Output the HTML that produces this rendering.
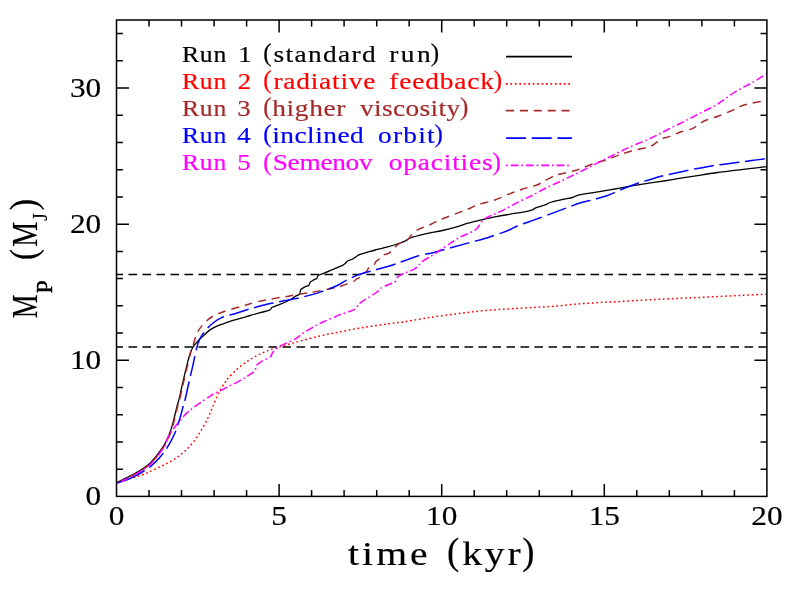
<!DOCTYPE html>
<html><head><meta charset="utf-8"><title>Planet mass vs time</title>
<style>
html,body{margin:0;padding:0;background:#fff;}
body{width:789px;height:590px;overflow:hidden;font-family:"Liberation Serif",serif;}
svg{display:block;will-change:transform;}
svg text{font-family:"Liberation Serif",serif;}
</style></head><body>
<svg width="789" height="590" viewBox="0 0 789 590">
<rect width="789" height="590" fill="#fff"/>
<g fill="none" stroke="#000" stroke-width="1.5">
<path d="M116.5,346.9H766.9" stroke-dasharray="8.5 5.5" stroke-dashoffset="2"/>
<path d="M116.5,274.4H766.9" stroke-dasharray="8.5 5.5" stroke-dashoffset="2"/>
</g>
<g fill="none" stroke-width="1.2" stroke-linejoin="round">
<path d="M116.4,482.7C118.2,481.9 123.7,479.2 126.9,477.6C130.1,476.0 132.6,474.8 135.4,473.2C138.2,471.6 141.5,469.8 143.9,468.1C146.3,466.5 148.2,465.1 150.0,463.3C151.8,461.6 153.3,459.6 155.0,457.6C156.7,455.6 158.3,453.6 160.0,451.2C161.7,448.8 163.5,446.2 165.0,443.5C166.5,440.8 167.8,438.0 169.0,435.0C170.2,432.0 171.2,429.0 172.2,425.6C173.2,422.2 174.1,418.0 175.0,414.5C175.9,411.0 176.8,407.0 177.5,404.5C178.2,402.0 178.3,402.2 179.0,399.5C179.7,396.8 180.7,391.7 181.4,388.5C182.1,385.3 182.4,384.5 183.3,380.5C184.2,376.5 185.9,369.1 187.1,364.4C188.3,359.7 189.5,355.4 190.5,352.5C191.5,349.6 192.1,348.6 193.1,347.0C194.1,345.4 194.8,344.4 196.4,342.7C198.0,341.0 200.0,338.8 202.4,336.6C204.8,334.4 208.0,331.3 210.8,329.4C213.6,327.5 216.5,326.4 219.3,325.2C222.1,324.0 224.9,323.2 227.8,322.2C230.7,321.2 233.9,320.2 236.7,319.4C239.5,318.5 242.5,317.8 244.7,317.1C246.9,316.5 247.4,316.2 250.0,315.5C252.6,314.8 257.1,313.6 260.2,312.7C263.3,311.8 267.0,311.0 268.8,310.4C270.6,309.8 270.2,309.5 270.8,309.0C271.4,308.5 271.3,307.8 272.2,307.3C273.1,306.8 274.6,306.3 276.0,305.8C277.4,305.3 278.1,305.2 280.5,304.1C282.9,303.1 288.3,300.8 290.7,299.5C293.1,298.2 293.4,297.5 294.8,296.6C296.2,295.7 298.4,295.1 299.3,294.2C300.2,293.3 300.0,292.3 300.3,291.5C300.6,290.7 300.4,290.1 301.2,289.3C302.0,288.5 303.7,287.4 304.9,286.8C306.1,286.2 307.7,286.2 308.5,285.6C309.3,285.1 309.3,284.1 309.6,283.5C309.9,282.9 309.8,282.6 310.4,282.0C311.0,281.4 312.1,280.8 313.1,280.2C314.1,279.6 315.9,279.2 316.6,278.6C317.4,278.0 317.3,277.1 317.6,276.5C317.9,275.9 318.0,275.6 318.6,275.2C319.2,274.8 320.3,274.5 321.2,274.1C322.1,273.8 322.5,273.8 324.2,273.1C325.9,272.5 328.2,271.5 331.3,270.2C334.4,268.9 340.5,266.4 342.9,265.2C345.3,264.0 344.7,263.9 345.5,263.2C346.3,262.5 346.5,261.6 347.5,261.0C348.5,260.4 350.5,259.9 351.6,259.5C352.7,259.1 353.1,258.9 354.0,258.3C354.9,257.8 355.7,256.8 356.7,256.2C357.7,255.5 358.3,255.0 360.0,254.4C361.7,253.8 364.4,253.1 366.9,252.4C369.4,251.7 371.5,251.0 375.1,250.0C378.7,249.0 384.5,247.8 388.6,246.6C392.8,245.4 397.2,243.9 400.0,243.0C402.8,242.1 403.4,241.8 405.1,241.0C406.8,240.2 406.8,239.2 410.2,238.0C413.6,236.8 420.0,235.2 425.4,233.9C430.8,232.7 437.0,231.7 442.4,230.5C447.8,229.3 453.4,227.8 457.6,226.6C461.8,225.4 463.8,224.3 467.8,223.2C471.8,222.1 476.9,220.9 481.4,219.8C485.9,218.8 490.1,217.8 494.9,216.9C499.7,216.0 504.8,215.1 510.2,214.2C515.6,213.3 523.3,212.2 527.1,211.4C530.9,210.6 531.7,210.1 533.0,209.6C534.3,209.1 533.1,209.0 535.1,208.2C537.1,207.4 542.8,205.8 545.3,204.9C547.8,204.0 547.2,203.4 550.3,202.5C553.4,201.6 560.2,200.0 563.9,199.2C567.6,198.4 569.8,198.2 572.4,197.5C575.0,196.8 575.0,195.8 579.2,194.9C583.4,194.0 591.9,192.9 597.8,191.9C603.7,190.9 609.1,190.0 614.7,189.0C620.4,188.0 626.1,186.9 631.7,185.9C637.4,184.9 642.7,184.1 648.6,183.2C654.5,182.3 661.0,181.4 666.9,180.5C672.8,179.6 678.2,178.6 683.9,177.7C689.5,176.8 695.1,176.0 700.8,175.1C706.4,174.2 712.1,173.3 717.8,172.5C723.4,171.7 729.1,171.1 734.7,170.4C740.4,169.7 746.3,169.0 751.7,168.4C757.1,167.8 764.4,166.9 766.9,166.6" stroke="#000" stroke-width="1.3"/>
<path d="M116.4,482.7C118.0,482.2 122.7,480.8 126.0,479.8C129.3,478.8 132.6,477.9 136.0,476.8C139.4,475.7 144.1,474.1 146.4,473.2C148.7,472.3 147.9,472.5 150.0,471.5C152.1,470.5 156.1,468.7 159.0,467.3C161.9,465.9 164.7,464.7 167.5,463.1C170.3,461.6 173.2,460.0 176.1,458.0C179.0,456.0 181.9,453.9 184.8,451.2C187.7,448.5 190.6,445.5 193.4,441.9C196.2,438.3 199.1,433.7 201.6,429.6C204.1,425.5 206.3,421.2 208.2,417.4C210.0,413.6 211.2,410.3 212.7,406.9C214.2,403.5 215.6,399.9 217.0,396.8C218.4,393.7 219.8,390.8 221.2,388.3C222.6,385.8 224.3,383.6 225.4,382.0C226.5,380.4 226.0,380.5 227.8,378.5C229.6,376.5 233.5,372.5 236.3,369.9C239.1,367.3 241.9,365.2 244.7,363.1C247.5,361.1 250.4,359.2 253.2,357.6C256.0,356.0 258.9,354.5 261.7,353.2C264.5,351.9 267.4,350.7 270.2,349.7C273.0,348.7 275.3,348.1 278.6,347.1C281.9,346.1 286.2,345.0 290.0,343.9C293.8,342.8 296.3,342.1 301.4,340.7C306.5,339.3 314.7,337.1 320.8,335.7C326.9,334.3 332.2,333.4 337.8,332.3C343.4,331.2 349.1,329.9 354.7,328.9C360.3,327.9 366.0,327.0 371.7,326.2C377.4,325.4 383.4,324.5 388.6,323.8C393.8,323.1 396.9,322.9 403.0,322.0C409.1,321.1 417.4,319.4 425.4,318.2C433.4,317.0 442.3,315.7 450.8,314.6C459.3,313.5 467.7,312.3 476.2,311.4C484.7,310.5 493.2,310.0 501.7,309.4C510.2,308.8 518.6,308.3 527.1,307.8C535.6,307.3 544.0,307.0 552.5,306.4C561.0,305.8 570.1,304.6 577.9,304.0C585.7,303.4 593.2,302.9 599.5,302.5C605.8,302.1 608.5,302.2 615.4,301.8C622.3,301.4 632.3,300.8 640.8,300.3C649.3,299.8 657.7,299.4 666.2,299.0C674.7,298.6 683.2,298.2 691.7,297.8C700.2,297.4 708.6,297.0 717.1,296.6C725.6,296.2 734.2,295.7 742.5,295.3C750.8,294.9 762.8,294.4 766.9,294.2" stroke="#ff0000" stroke-width="1.5" stroke-dasharray="1.7 2.75"/>
<path d="M117.0,483.1C118.8,482.2 124.3,479.5 127.5,478.0C130.7,476.4 133.2,475.1 136.0,473.6C138.8,472.0 142.1,470.1 144.5,468.5C146.9,466.8 148.8,465.4 150.6,463.7C152.4,461.9 153.9,460.0 155.6,458.0C157.3,455.9 158.9,453.9 160.6,451.6C162.3,449.2 164.1,446.6 165.6,443.9C167.1,441.2 168.4,438.3 169.6,435.4C170.8,432.4 171.8,429.4 172.8,426.0C173.8,422.5 174.7,418.4 175.6,414.9C176.5,411.3 177.4,407.4 178.1,404.9C178.8,402.4 178.9,402.5 179.6,399.9C180.2,397.2 181.3,392.0 182.0,388.9C182.7,385.7 183.0,384.9 183.9,380.9C184.8,376.8 186.5,369.6 187.7,364.8C188.8,359.9 189.9,355.2 190.8,352.0C191.7,348.8 192.2,348.2 193.1,345.3C194.0,342.4 195.1,337.7 196.4,334.7C197.7,331.7 198.8,329.8 200.7,327.4C202.5,325.0 205.0,322.2 207.5,320.1C210.0,318.0 212.5,316.2 215.9,314.6C219.3,313.0 223.0,311.7 227.8,310.2C232.6,308.7 241.0,306.5 244.7,305.4C248.4,304.3 247.2,304.6 250.0,303.8C252.8,303.0 258.4,301.6 261.7,300.8C265.0,300.0 266.9,299.8 270.0,299.2C273.1,298.6 277.1,298.0 280.5,297.4C283.9,296.8 286.8,296.5 290.7,295.8C294.6,295.1 300.5,293.9 303.9,293.4C307.3,292.8 308.2,293.0 311.0,292.5C313.8,292.0 317.4,291.3 320.8,290.6C324.2,289.9 328.4,289.1 331.3,288.5C334.2,287.9 336.2,287.6 338.4,287.0C340.6,286.4 342.5,285.6 344.5,284.9C346.5,284.2 348.9,283.5 350.6,282.9C352.3,282.2 353.6,281.6 354.5,281.0C355.4,280.4 355.4,279.8 356.3,279.2C357.2,278.6 359.1,277.9 360.0,277.2C360.9,276.5 361.2,275.8 361.6,275.2C362.0,274.6 361.9,273.9 362.6,273.4C363.3,272.9 365.0,272.6 365.8,272.0C366.6,271.4 367.0,270.7 367.5,270.0C368.0,269.3 368.1,268.3 368.9,267.6C369.7,266.9 371.6,266.2 372.5,265.6C373.4,265.0 373.9,264.8 374.5,264.2C375.1,263.6 375.1,262.6 375.8,261.8C376.5,261.0 377.6,260.2 378.5,259.6C379.4,259.0 380.4,258.5 381.1,257.9C381.9,257.3 382.4,256.6 383.0,256.0C383.6,255.4 383.6,255.0 384.4,254.6C385.2,254.2 386.7,254.3 388.0,253.6C389.3,252.9 390.6,251.9 392.0,250.6C393.4,249.3 395.0,247.2 396.3,245.9C397.6,244.7 398.8,243.8 400.0,243.1C401.2,242.3 402.4,241.8 403.5,241.4C404.6,241.0 405.8,241.1 406.8,240.4C407.8,239.8 408.8,238.3 409.5,237.5C410.2,236.7 410.3,236.3 411.3,235.3C412.3,234.3 413.9,232.6 415.3,231.5C416.7,230.4 418.1,229.5 419.5,228.8C420.9,228.1 421.9,227.8 423.4,227.3C424.9,226.8 427.1,226.4 428.5,225.8C429.9,225.2 430.3,224.7 431.5,224.0C432.7,223.3 434.2,222.6 435.6,221.9C437.0,221.2 437.4,221.0 439.9,219.9C442.4,218.8 446.1,217.4 450.8,215.6C455.5,213.8 463.8,210.8 467.8,209.2C471.8,207.6 472.7,206.8 475.0,205.9C477.3,205.0 478.1,204.6 481.4,203.6C484.7,202.6 490.1,201.7 494.9,200.0C499.7,198.3 505.7,195.4 510.2,193.6C514.7,191.8 518.7,190.4 522.0,189.3C525.3,188.2 527.5,187.6 530.0,186.9C532.5,186.2 535.2,185.7 537.0,185.0C538.8,184.3 539.7,183.7 541.0,183.0C542.3,182.3 542.8,182.0 544.6,181.0C546.4,180.0 550.1,177.8 552.0,176.8C553.9,175.8 553.8,175.6 556.0,175.0C558.2,174.4 561.7,173.8 565.0,173.0C568.3,172.2 573.4,171.0 576.0,170.3C578.6,169.6 577.7,169.8 580.8,168.6C583.9,167.4 590.1,164.8 594.4,163.3C598.6,161.9 602.3,161.2 606.3,159.9C610.2,158.6 613.9,156.9 618.1,155.4C622.3,153.9 626.9,152.3 631.7,151.0C636.5,149.7 643.5,148.3 646.9,147.4C650.3,146.5 650.6,146.3 652.0,145.6C653.4,144.9 654.2,144.1 655.5,143.2C656.8,142.3 658.1,141.1 659.5,140.2C660.9,139.3 662.2,138.6 664.0,138.0C665.8,137.4 667.2,137.4 670.0,136.4C672.8,135.4 676.8,133.3 680.5,132.0C684.2,130.7 689.6,129.7 692.4,128.6C695.2,127.5 695.5,126.6 697.5,125.3C699.5,124.0 700.8,122.5 704.2,121.0C707.6,119.5 713.3,118.0 717.8,116.3C722.3,114.6 727.7,112.4 731.4,110.8C735.1,109.2 736.4,107.9 739.8,106.6C743.2,105.3 747.2,104.2 751.7,103.2C756.2,102.2 764.4,100.8 766.9,100.3" stroke="#a52a2a" stroke-width="1.5" stroke-dasharray="8 5.9"/>
<path d="M116.4,483.2C118.2,482.6 123.7,481.0 126.9,479.8C130.1,478.6 132.6,477.4 135.4,475.9C138.2,474.4 141.2,472.7 143.9,471.0C146.6,469.3 148.9,467.8 151.5,465.6C154.1,463.4 156.9,460.8 159.5,457.8C162.1,454.8 164.6,451.7 167.2,447.6C169.8,443.5 172.7,438.1 174.8,433.2C176.9,428.3 178.6,422.6 180.0,418.0C181.4,413.4 182.6,408.3 183.4,405.3C184.2,402.3 184.5,402.1 185.0,400.0C185.5,397.9 185.9,396.0 186.6,393.0C187.3,390.0 187.9,386.8 189.0,382.0C190.1,377.2 191.9,369.9 193.1,364.4C194.3,358.9 195.3,353.4 196.4,349.2C197.5,345.0 198.4,342.0 199.8,339.0C201.2,336.0 202.8,333.8 204.9,331.2C207.0,328.6 209.8,325.7 212.5,323.5C215.2,321.3 217.0,319.6 221.0,317.9C225.0,316.2 232.0,314.6 236.3,313.2C240.6,311.8 244.1,310.6 246.9,309.7C249.7,308.8 251.0,308.5 253.2,307.9C255.4,307.3 257.3,306.8 260.2,306.1C263.1,305.4 266.9,304.4 270.3,303.6C273.7,302.8 277.1,302.2 280.5,301.5C283.9,300.8 287.3,300.2 290.7,299.5C294.1,298.8 297.5,298.2 300.9,297.4C304.3,296.6 307.7,295.8 311.0,294.9C314.3,294.0 316.3,293.5 320.8,291.9C325.3,290.3 333.6,287.1 337.8,285.2C342.1,283.3 342.9,282.1 346.3,280.4C349.7,278.7 353.9,276.5 358.1,274.9C362.3,273.3 366.6,272.3 371.7,270.9C376.8,269.4 383.4,267.8 388.6,266.2C393.8,264.6 398.3,262.9 403.0,261.3C407.7,259.7 411.8,257.8 416.9,256.3C422.0,254.8 428.2,253.9 433.9,252.5C439.5,251.1 445.1,249.4 450.8,247.8C456.5,246.2 462.2,244.7 467.8,243.1C473.4,241.5 479.1,240.2 484.7,238.5C490.3,236.8 497.4,234.4 501.7,232.9C505.9,231.4 507.4,230.8 510.2,229.5C513.0,228.2 515.1,226.8 518.6,225.4C522.1,224.0 526.8,222.6 531.5,220.9C536.2,219.2 541.5,217.3 546.9,215.3C552.3,213.3 558.2,211.0 563.9,208.9C569.5,206.8 576.4,204.2 580.8,202.8C585.1,201.4 586.5,201.5 590.0,200.6C593.5,199.7 598.8,198.1 601.8,197.2C604.8,196.3 604.9,196.6 608.1,195.3C611.3,194.1 617.0,191.3 620.8,189.7C624.6,188.1 627.6,187.1 631.0,185.8C634.4,184.5 638.2,183.0 641.2,182.0C644.2,181.0 645.8,180.9 648.8,180.0C651.8,179.1 655.5,177.8 659.0,176.8C662.5,175.9 665.9,175.2 670.0,174.3C674.1,173.4 678.8,172.3 683.9,171.2C689.0,170.1 695.1,168.9 700.8,167.9C706.4,166.9 712.1,165.8 717.8,165.0C723.4,164.2 729.1,163.6 734.7,162.8C740.4,162.1 746.3,161.2 751.7,160.5C757.1,159.8 764.4,158.9 766.9,158.6" stroke="#0000ff" stroke-width="1.5" stroke-dasharray="31 5.7 20 5.7 20 5.7 20 5.7 20 5.7 20 5.7 20 5.7 20 5.7 20 5.7 20 5.7 20 5.7 20 5.7 20 5.7 20 5.7 20 5.7 20 5.7 20 5.7 20 5.7 20 5.7 20 5.7 20 5.7 20 5.7 20 5.7 20 5.7 20 5.7 20 5.7 20 5.7 20 5.7 20 5.7 20 5.7 20 5.7 20 5.7 20 5.7 20 5.7 20 5.7 20 5.7 20 5.7 20 5.7 20 5.7 20 5.7 20 5.7 20 5.7 20 5.7 20 5.7 20 5.7 20 5.7 20 5.7 20 5.7 20 5.7 20 5.7 20 5.7 20 5.7 20 5.7 20 5.7 20 5.7 20 5.7 20 5.7 20 5.7 20 5.7 20 5.7 20 5.7"/>
<path d="M117.0,483.5C118.8,482.6 124.3,480.0 127.5,478.4C130.7,476.8 133.2,475.6 136.0,474.0C138.8,472.4 142.1,470.6 144.5,468.9C146.9,467.3 148.8,465.9 150.6,464.1C152.4,462.4 153.9,460.4 155.6,458.4C157.3,456.4 158.9,454.4 160.6,452.0C162.3,449.6 164.3,447.0 165.6,444.3C166.9,441.6 167.0,438.9 168.6,435.9C170.2,432.9 172.8,429.6 175.4,426.3C178.0,423.0 181.1,418.9 183.9,415.9C186.7,412.9 189.6,410.6 192.4,408.4C195.2,406.1 198.0,404.3 200.8,402.4C203.6,400.5 207.2,398.3 209.3,396.9C211.4,395.5 211.7,395.1 213.2,394.2C214.7,393.3 216.1,392.7 218.3,391.6C220.5,390.5 223.6,389.0 226.3,387.6C229.0,386.2 231.6,385.0 234.7,383.4C237.8,381.8 242.1,379.5 244.7,378.0C247.2,376.5 248.4,375.5 250.0,374.4C251.6,373.3 253.6,372.3 254.5,371.4C255.4,370.5 255.3,369.9 255.6,369.0C255.9,368.1 255.9,367.1 256.2,366.3C256.5,365.5 256.6,365.2 257.5,364.4C258.4,363.6 259.6,362.6 261.7,361.3C263.8,360.0 268.4,358.3 270.2,356.8C272.0,355.3 271.6,353.9 272.7,352.5C273.8,351.1 275.3,349.5 276.9,348.3C278.4,347.1 280.6,345.9 282.0,345.2C283.4,344.4 283.5,344.5 285.0,343.8C286.5,343.1 289.3,341.7 291.2,340.8C293.1,339.9 294.8,339.3 296.3,338.4C297.8,337.5 298.8,336.4 300.1,335.4C301.4,334.4 301.8,334.0 303.9,332.6C306.0,331.2 310.0,328.9 312.8,327.3C315.6,325.7 316.6,324.9 320.8,323.0C325.0,321.1 332.8,317.6 337.8,315.6C342.8,313.6 347.9,312.1 350.9,311.0C353.8,309.9 354.4,309.8 355.5,309.0C356.6,308.2 356.8,307.4 357.3,306.5C357.8,305.6 358.1,304.4 358.6,303.8C359.1,303.2 359.1,303.7 360.2,303.0C361.2,302.3 363.5,300.5 364.9,299.6C366.2,298.7 366.4,298.8 368.3,297.6C370.2,296.4 374.7,293.7 376.4,292.5C378.1,291.3 377.8,291.3 378.5,290.6C379.2,289.9 379.4,289.2 380.5,288.4C381.6,287.6 383.6,286.8 385.3,286.0C387.0,285.2 389.1,284.3 390.7,283.7C392.2,283.1 393.7,282.9 394.6,282.2C395.6,281.5 395.9,280.5 396.4,279.6C396.9,278.7 396.9,277.8 397.8,276.9C398.7,276.0 400.3,275.2 401.8,274.4C403.3,273.6 405.5,272.8 406.9,272.2C408.3,271.6 408.8,271.6 410.2,271.0C411.6,270.4 413.5,269.6 415.0,268.6C416.5,267.6 417.6,266.3 419.0,265.0C420.4,263.7 421.4,262.2 423.2,260.8C425.0,259.4 428.1,258.0 430.0,256.8C431.9,255.6 432.9,255.0 434.8,253.8C436.7,252.6 438.6,251.1 441.2,249.4C443.8,247.7 447.8,245.1 450.1,243.5C452.4,241.9 453.5,241.1 455.2,240.0C456.9,238.9 457.2,238.5 460.2,237.1C463.1,235.7 470.1,232.7 472.9,231.3C475.7,229.9 475.5,230.2 476.8,228.8C478.1,227.4 479.4,224.7 480.6,223.1C481.8,221.5 482.8,220.3 484.0,219.3C485.2,218.3 485.2,218.3 488.1,216.9C491.1,215.5 496.6,213.4 501.7,210.9C506.8,208.4 513.4,204.6 518.6,201.9C523.8,199.2 528.3,197.4 533.0,195.0C537.7,192.6 541.8,190.0 546.9,187.5C552.0,185.0 558.2,182.5 563.9,179.8C569.5,177.1 575.1,174.3 580.8,171.5C586.4,168.7 592.1,165.7 597.8,162.8C603.4,159.9 609.1,157.1 614.7,154.3C620.4,151.5 626.1,148.7 631.7,146.2C637.4,143.7 644.1,141.2 648.6,139.2C653.1,137.2 656.0,135.7 659.0,134.2C662.0,132.7 662.8,132.1 666.9,130.0C671.0,127.9 678.2,124.4 683.9,121.6C689.5,118.8 695.1,115.8 700.8,112.9C706.4,110.0 712.1,107.5 717.8,104.0C723.4,100.5 729.1,95.7 734.7,92.2C740.4,88.7 746.3,86.0 751.7,82.9C757.1,79.8 764.4,75.1 766.9,73.6" stroke="#ff00ff" stroke-width="1.5" stroke-dasharray="1.7 3 7.8 2.8"/>
</g>
<g fill="none" stroke="#000" stroke-width="1.5">
<rect x="116.5" y="20.0" width="650.4" height="476.4"/>
<path d="M149.0,496.4v-6.4M149.0,20.0v6.4M181.5,496.4v-6.4M181.5,20.0v6.4M214.1,496.4v-6.4M214.1,20.0v6.4M246.6,496.4v-6.4M246.6,20.0v6.4M279.1,496.4v-12.5M279.1,20.0v12.5M311.6,496.4v-6.4M311.6,20.0v6.4M344.1,496.4v-6.4M344.1,20.0v6.4M376.7,496.4v-6.4M376.7,20.0v6.4M409.2,496.4v-6.4M409.2,20.0v6.4M441.7,496.4v-12.5M441.7,20.0v12.5M474.2,496.4v-6.4M474.2,20.0v6.4M506.7,496.4v-6.4M506.7,20.0v6.4M539.3,496.4v-6.4M539.3,20.0v6.4M571.8,496.4v-6.4M571.8,20.0v6.4M604.3,496.4v-12.5M604.3,20.0v12.5M636.8,496.4v-6.4M636.8,20.0v6.4M669.3,496.4v-6.4M669.3,20.0v6.4M701.9,496.4v-6.4M701.9,20.0v6.4M734.4,496.4v-6.4M734.4,20.0v6.4M116.5,469.2h6.4M766.9,469.2h-6.4M116.5,442.0h6.4M766.9,442.0h-6.4M116.5,414.7h6.4M766.9,414.7h-6.4M116.5,387.5h6.4M766.9,387.5h-6.4M116.5,360.3h12.5M766.9,360.3h-12.5M116.5,333.1h6.4M766.9,333.1h-6.4M116.5,305.8h6.4M766.9,305.8h-6.4M116.5,278.6h6.4M766.9,278.6h-6.4M116.5,251.4h6.4M766.9,251.4h-6.4M116.5,224.2h12.5M766.9,224.2h-12.5M116.5,196.9h6.4M766.9,196.9h-6.4M116.5,169.7h6.4M766.9,169.7h-6.4M116.5,142.5h6.4M766.9,142.5h-6.4M116.5,115.3h6.4M766.9,115.3h-6.4M116.5,88.1h12.5M766.9,88.1h-12.5M116.5,60.8h6.4M766.9,60.8h-6.4M116.5,33.6h6.4M766.9,33.6h-6.4"/>
</g>
<g fill="none" stroke-width="1.7">
<path d="M506.0,56.6H572.0" stroke="#000"/>
<path d="M506.0,83.8H572.0" stroke="#ff0000" stroke-dasharray="1.7 2.75"/>
<path d="M506.0,110.6H572.0" stroke="#a52a2a" stroke-dasharray="8 5.9"/>
<path d="M506.0,138.1H572.0" stroke="#0000ff" stroke-dasharray="20 5.7"/>
<path d="M506.0,165.3H572.0" stroke="#ff00ff" stroke-dasharray="1.7 3 7.8 2.8"/>
</g>
<g fill="#000" stroke="#000" stroke-width="0.2">
<text vector-effect="non-scaling-stroke" transform="translate(182.01,61.50) scale(1.100,1.000)" font-size="23.40" letter-spacing="0.619">Run</text>
<text vector-effect="non-scaling-stroke" transform="translate(245.00,61.50) scale(1.12,1)" font-size="23.90" text-anchor="middle">1</text>
<text vector-effect="non-scaling-stroke" transform="translate(263.25,60.70) scale(1.050,1.050)" font-size="23.90">(</text>
<text vector-effect="non-scaling-stroke" transform="translate(273.39,61.50) scale(1.200,1.000)" font-size="22.80" letter-spacing="1.158">standard</text>
<text vector-effect="non-scaling-stroke" transform="translate(389.19,61.50) scale(1.200,1.000)" font-size="22.80" letter-spacing="2.144">run</text>
<text vector-effect="non-scaling-stroke" transform="translate(430.85,60.70) scale(1.050,1.050)" font-size="23.90">)</text>
</g>
<g fill="#ff0000" stroke="#ff0000" stroke-width="0.2">
<text vector-effect="non-scaling-stroke" transform="translate(182.01,88.70) scale(1.100,1.000)" font-size="23.40" letter-spacing="0.619">Run</text>
<text vector-effect="non-scaling-stroke" transform="translate(244.55,88.70) scale(1.12,1)" font-size="23.90" text-anchor="middle">2</text>
<text vector-effect="non-scaling-stroke" transform="translate(263.25,87.90) scale(1.050,1.050)" font-size="23.90">(</text>
<text vector-effect="non-scaling-stroke" transform="translate(273.39,88.70) scale(1.200,1.000)" font-size="22.80" letter-spacing="0.658">radiative</text>
<text vector-effect="non-scaling-stroke" transform="translate(389.19,88.70) scale(1.200,1.000)" font-size="22.80" letter-spacing="0.714">feedback</text>
<text vector-effect="non-scaling-stroke" transform="translate(493.75,87.90) scale(1.050,1.050)" font-size="23.90">)</text>
</g>
<g fill="#a52a2a" stroke="#a52a2a" stroke-width="0.2">
<text vector-effect="non-scaling-stroke" transform="translate(182.01,115.90) scale(1.100,1.000)" font-size="23.40" letter-spacing="0.619">Run</text>
<text vector-effect="non-scaling-stroke" transform="translate(244.05,115.90) scale(1.12,1)" font-size="23.90" text-anchor="middle">3</text>
<text vector-effect="non-scaling-stroke" transform="translate(263.25,115.10) scale(1.050,1.050)" font-size="23.90">(</text>
<text vector-effect="non-scaling-stroke" transform="translate(272.19,115.90) scale(1.200,1.000)" font-size="22.80" letter-spacing="0.554">higher</text>
<text vector-effect="non-scaling-stroke" transform="translate(359.99,115.90) scale(1.200,1.000)" font-size="22.80" letter-spacing="0.306">viscosity</text>
<text vector-effect="non-scaling-stroke" transform="translate(460.05,115.10) scale(1.050,1.050)" font-size="23.90">)</text>
</g>
<g fill="#0000ff" stroke="#0000ff" stroke-width="0.2">
<text vector-effect="non-scaling-stroke" transform="translate(182.01,143.10) scale(1.100,1.000)" font-size="23.40" letter-spacing="0.619">Run</text>
<text vector-effect="non-scaling-stroke" transform="translate(244.00,143.10) scale(1.12,1)" font-size="23.90" text-anchor="middle">4</text>
<text vector-effect="non-scaling-stroke" transform="translate(263.25,142.30) scale(1.050,1.050)" font-size="23.90">(</text>
<text vector-effect="non-scaling-stroke" transform="translate(272.19,143.10) scale(1.200,1.000)" font-size="22.80" letter-spacing="0.415">inclined</text>
<text vector-effect="non-scaling-stroke" transform="translate(377.99,143.10) scale(1.200,1.000)" font-size="22.80" letter-spacing="1.051">orbit</text>
<text vector-effect="non-scaling-stroke" transform="translate(434.55,142.30) scale(1.050,1.050)" font-size="23.90">)</text>
</g>
<g fill="#ff00ff" stroke="#ff00ff" stroke-width="0.2">
<text vector-effect="non-scaling-stroke" transform="translate(182.01,170.30) scale(1.100,1.000)" font-size="23.40" letter-spacing="0.619">Run</text>
<text vector-effect="non-scaling-stroke" transform="translate(244.05,170.30) scale(1.12,1)" font-size="23.90" text-anchor="middle">5</text>
<text vector-effect="non-scaling-stroke" transform="translate(263.25,169.50) scale(1.050,1.050)" font-size="23.90">(</text>
<text vector-effect="non-scaling-stroke" transform="translate(272.69,170.30) scale(1.200,1.000)" font-size="22.80" letter-spacing="-0.251">Semenov</text>
<text vector-effect="non-scaling-stroke" transform="translate(388.69,170.30) scale(1.200,1.000)" font-size="22.80" letter-spacing="0.706">opacities</text>
<text vector-effect="non-scaling-stroke" transform="translate(492.55,169.50) scale(1.050,1.050)" font-size="23.90">)</text>
</g>
<g stroke="#000" stroke-width="0.2">
<text vector-effect="non-scaling-stroke" transform="translate(101.2,505.3) scale(1.18,1)" font-size="26.5" text-anchor="end">0</text>
<text vector-effect="non-scaling-stroke" transform="translate(101.2,369.2) scale(1.18,1)" font-size="26.5" text-anchor="end">10</text>
<text vector-effect="non-scaling-stroke" transform="translate(101.2,233.1) scale(1.18,1)" font-size="26.5" text-anchor="end">20</text>
<text vector-effect="non-scaling-stroke" transform="translate(101.2,97.0) scale(1.18,1)" font-size="26.5" text-anchor="end">30</text>
<text vector-effect="non-scaling-stroke" transform="translate(116.5,524.8) scale(1.18,1)" font-size="26.5" text-anchor="middle">0</text>
<text vector-effect="non-scaling-stroke" transform="translate(279.1,524.8) scale(1.18,1)" font-size="26.5" text-anchor="middle">5</text>
<text vector-effect="non-scaling-stroke" transform="translate(441.7,524.8) scale(1.18,1)" font-size="26.5" text-anchor="middle">10</text>
<text vector-effect="non-scaling-stroke" transform="translate(604.3,524.8) scale(1.18,1)" font-size="26.5" text-anchor="middle">15</text>
<text vector-effect="non-scaling-stroke" transform="translate(766.9,524.8) scale(1.18,1)" font-size="26.5" text-anchor="middle">20</text>
</g>
<g stroke="#000" stroke-width="0.2">
<text vector-effect="non-scaling-stroke" transform="translate(348.01,564.80) scale(1.180,1.000)" font-size="33.60" letter-spacing="2.605">time</text>
<text vector-effect="non-scaling-stroke" transform="translate(447.06,564.45) scale(1.050,1.085)" font-size="35.00">(</text>
<text vector-effect="non-scaling-stroke" transform="translate(462.31,564.80) scale(1.180,1.000)" font-size="33.60" letter-spacing="2.302">kyr</text>
<text vector-effect="non-scaling-stroke" transform="translate(522.36,564.45) scale(1.050,1.085)" font-size="35.00">)</text>
</g>
<g transform="translate(37.2,318.3) rotate(-90)" font-size="36" stroke="#000" stroke-width="0.2">
<text transform="translate(0,0) scale(0.74,1)">M</text>
<text transform="translate(25.6,10) scale(1.16,1)" font-size="21.6" stroke-width="0.55">p</text>
<text transform="translate(58.3,-0.95) scale(0.92,1.08)">(</text>
<text transform="translate(71.5,0) scale(0.78,1)">M</text>
<text transform="translate(97.5,9.5) scale(0.9,1)" font-size="21.6">J</text>
<text transform="translate(108.0,-0.95) scale(0.95,1.08)">)</text>
</g>
</svg>
</body></html>
